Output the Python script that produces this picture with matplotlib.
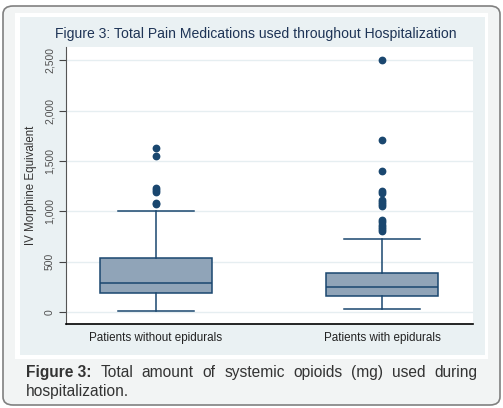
import matplotlib
matplotlib.use("Agg")
import matplotlib.pyplot as plt
from matplotlib.patches import FancyBboxPatch, Rectangle

plt.rcParams['font.family'] = ['Liberation Sans', 'DejaVu Sans']

# values
groups = ['Patients without epidurals', 'Patients with epidurals']
whislo = [10, 25]
q1 = [188, 157]
med = [292, 250]
q3 = [537, 385]
whishi = [1005, 727]
outliers_without = [1625, 1545, 1235, 1215, 1195, 1085, 1075]
outliers_with = [2500, 1710, 1405, 1205, 1185, 1110, 1090, 1070, 1050,
                 915, 890, 865, 845, 820, 800]
yticks = [0, 500, 1000, 1500, 2000, 2500]
ytick_labels = ['0', '500', '1,000', '1,500', '2,000', '2,500']

W, H = 503, 408
fig = plt.figure(figsize=(W / 100, H / 100), dpi=100)

def fx(px):
    return px / W

def fy(py):
    return 1 - py / H

# outer frame, white panel, chart background (behind the axes)
fig.patches.append(FancyBboxPatch((fx(3), fy(405)), fx(497), 399 / H,
                                  boxstyle="round,pad=0,rounding_size=0.02",
                                  transform=fig.transFigure, facecolor='#f2f4f4',
                                  edgecolor='#808080', linewidth=1.2, zorder=-3))
fig.patches.append(Rectangle((fx(15), fy(359)), fx(473), 346 / H,
                             transform=fig.transFigure, facecolor='white',
                             edgecolor='none', zorder=-2))
fig.patches.append(Rectangle((fx(20), fy(355)), fx(465), 338 / H,
                             transform=fig.transFigure, facecolor='#eaf1f3',
                             edgecolor='none', zorder=-1))

ax = fig.add_axes([fx(66), fy(324), fx(473 - 66), (324 - 47) / H])
ax.set_zorder(2)
ax.set_facecolor('white')

stats = []
for i in range(2):
    stats.append({'label': groups[i], 'whislo': whislo[i], 'q1': q1[i],
                  'med': med[i], 'q3': q3[i], 'whishi': whishi[i],
                  'fliers': [outliers_without, outliers_with][i]})

navy = '#1a476f'
ax.bxp(stats, positions=[1, 2], widths=0.494, capwidths=0.336,
       patch_artist=True,
       boxprops=dict(facecolor='#90a4b8', edgecolor=navy, linewidth=1.1),
       medianprops=dict(color=navy, linewidth=1.1),
       whiskerprops=dict(color=navy, linewidth=1.1),
       capprops=dict(color=navy, linewidth=1.1),
       flierprops=dict(marker='o', markersize=4.6, markerfacecolor=navy,
                       markeredgecolor=navy))

ax.set_xlim(0.603, 2.4)
ax.set_ylim(-120, 2632)
ax.set_yticks(yticks)
ax.set_yticklabels(ytick_labels, rotation=90, va='center', fontsize=7.5,
                   color='#505050')
ax.yaxis.grid(True, color='#e6eef1', linewidth=1)
ax.set_axisbelow(True)
ax.tick_params(axis='y', length=5, width=0.8, color='#444444', pad=3)
ax.tick_params(axis='x', length=0, labelsize=8.4, pad=6)
for lbl in ax.get_xticklabels():
    lbl.set_color('#222222')
ax.spines['top'].set_visible(False)
ax.spines['right'].set_visible(False)
ax.spines['left'].set_color('#555555')
ax.spines['bottom'].set_color('black')
ax.spines['bottom'].set_linewidth(1.2)

ax.set_ylabel('IV Morphine Equivalent', fontsize=8.3, color='#333333', labelpad=6)

fig.text(fx(256), fy(34), 'Figure 3: Total Pain Medications used throughout Hospitalization',
         ha='center', va='center', fontsize=10.1, color='#1e3456')

# caption, first line justified
cap_words = ['Total', 'amount', 'of', 'systemic', 'opioids', '(mg)', 'used', 'during']
y1 = fy(377)
t0 = fig.text(fx(26), y1, 'Figure 3:', fontsize=11.2, fontweight='bold',
              color='#333333', va='baseline')
texts = [fig.text(0, y1, w, fontsize=11.2, color='#333333', va='baseline')
         for w in cap_words]
r = fig.canvas.get_renderer()
start = t0.get_window_extent(r).x1
widths = [t.get_window_extent(r).width for t in texts]
end = 477
gap = (end - start - sum(widths)) / len(cap_words)
x = start + gap
for t, w in zip(texts, widths):
    t.set_x(x / W)
    x += w + gap
fig.text(fx(26), fy(396), 'hospitalization.', fontsize=11.2, color='#333333',
         va='baseline')

fig.savefig('out.png', dpi=100)
